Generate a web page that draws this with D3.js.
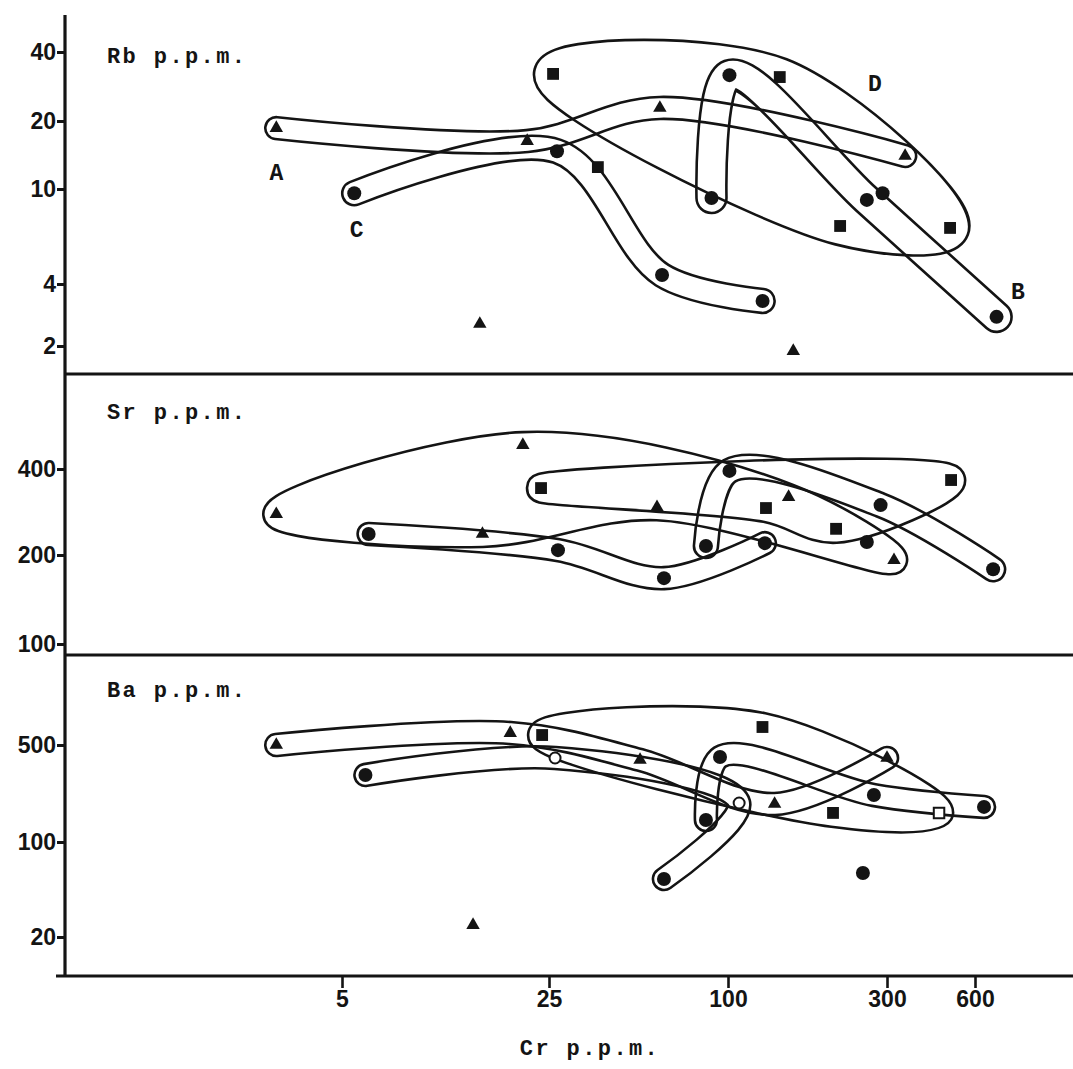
<!DOCTYPE html>
<html>
<head>
<meta charset="utf-8">
<script src="https://cdn.jsdelivr.net/npm/d3@7"></script>
<style>
  body { margin: 0; background: #fff; }
  svg { display: block; }
</style>
</head>
<body>
<svg id="chart" width="1073" height="1069"></svg>
<script>
// ---- data (Cr p.p.m. on x, element p.p.m. on y) ----
const crTicks = [5, 25, 100, 300, 600];

// Rb
const rbTicks = [2, 4, 10, 20, 40];
const rbTri  = [[3.0,18.6],[21.1,16.3],[59,22.8],[346,14.0],[14.6,2.56],[157,1.89]];
const rbCirc = [[5.5,9.6],[26.6,14.7],[60,4.36],[127,3.31],[88,9.17],[101,31.7],[261,9.0],[291,9.6],[711,2.77]];
const rbSq   = [[25.8,32.1],[143,31.1],[36.5,12.5],[217,7.0],[493,6.87]];
const rbLoops = [
  ["t0","t1","t2","t3"],          // A
  ["c0","c1","c2","c3"],          // C
  ["c4","c5","c6","c8"],          // B
  ["s0","s1","s4","s3","s0"]      // D
];
const rbLetters = [["A",3.0,11.9],["C",5.6,6.8],["D",276,29.3],["B",842,3.7]];

// Sr
const srTicks = [100, 200, 400];
const srTri  = [[3.0,278],[20.4,485],[14.9,237],[57.7,294],[152,319],[317,192]];
const srCirc = [[6.15,237],[26.8,208],[60.9,167],[84.3,215],[101,394],[129,220],[287,299],[261,222],[692,179]];
const srSq   = [[23.5,343],[130,292],[211,247],[497,366]];
const srLoops = [
  ["t0","t1","t4","t5","t3","t2","t0"],
  ["s0","s3","s2","s1","s0"],
  ["c3","c4","c6","c8"],
  ["c0","c1","c2","c5"]
];

// Ba
const baTicks = [20, 100, 500];
const baTri  = [[3.0,500],[18.5,610],[50.6,390],[138,188],[300,403],[13.85,24.5]];
const baCirc = [[6.0,304],[94,410],[274,218],[644,179],[84.3,144],[60.9,53.4],[254,59.1]];
const baOpen = [[26.2,403],[108,191]];
const baSq   = [[23.7,590],[126.9,674],[206.6,162]];
const baOpenSq = [[452,162]];
const baLoops = [
  ["t0","t1","t2","t3","t4"],
  ["s0","s1","q0","s2","s0"],
  ["c0","o0","o1","c5"],
  ["c4","c1","c2","c3"]
];

// ---- layout ----
const W = 1073, H = 1069;
const ink = "#141414";
const axisX = 65, plotTop = 15, sep1 = 374, sep2 = 655, plotBottom = 976;
const monoFont = "'Liberation Mono', 'DejaVu Sans Mono', monospace";
const sansFont = "'Liberation Sans', Arial, sans-serif";

const svg = d3.select("#chart");
const defs = svg.append("defs");

// hand-drawn log axis: calibrated at the printed ticks
const x = d3.scaleLog().domain(crTicks).range([342, 549, 728, 887, 975]);

const panels = [
  {label: "Rb p.p.m.", labelY: 63, ticks: rbTicks, knots: [346, 284, 189, 121, 52],
   tri: rbTri, circ: rbCirc, sq: rbSq, open: [], openSq: [], loops: rbLoops, radius: [11, 12, 15, 19], letters: rbLetters},
  {label: "Sr p.p.m.", labelY: 419, ticks: srTicks, knots: [644, 555, 469],
   tri: srTri, circ: srCirc, sq: srSq, open: [], openSq: [], loops: srLoops, radius: [13, 14, 12, 11], letters: []},
  {label: "Ba p.p.m.", labelY: 697, ticks: baTicks, knots: [937, 842, 745],
   tri: baTri, circ: baCirc, sq: baSq, open: baOpen, openSq: baOpenSq, loops: baLoops, radius: [11, 14, 11, 11], letters: []}
];

const loopLine = closed => d3.line()
  .curve(closed ? d3.curveCatmullRomClosed.alpha(0.5) : d3.curveCatmullRom.alpha(0.5));

const lw = 2.6;
let maskCount = 0;

panels.forEach(p => {
  const y = d3.scaleLog().domain(p.ticks).range(p.knots);
  const lookup = {t: p.tri, c: p.circ, s: p.sq, o: p.open, q: p.openSq};
  const pos = ref => {
    const d = lookup[ref[0]][+ref.slice(1)];
    return [x(d[0]), y(d[1])];
  };

  const g = svg.append("g");

  // loops: outline of a thick stroke along the members
  p.loops.forEach((refs, i) => {
    const closed = refs.length > 2 && refs[0] === refs[refs.length - 1];
    const pts = (closed ? refs.slice(0, -1) : refs).map(pos);
    const d = loopLine(closed)(pts);
    const r = p.radius[i];
    const id = "loop" + (maskCount++);
    const m = defs.append("mask").attr("id", id)
      .attr("maskUnits", "userSpaceOnUse")
      .attr("x", 0).attr("y", 0).attr("width", W).attr("height", H);
    m.append("path").attr("d", d)
      .attr("fill", closed ? "#fff" : "none")
      .attr("stroke", "#fff").attr("stroke-width", 2 * r + lw)
      .attr("stroke-linejoin", "round").attr("stroke-linecap", "round");
    m.append("path").attr("d", d)
      .attr("fill", closed ? "#000" : "none")
      .attr("stroke", "#000").attr("stroke-width", 2 * r - lw)
      .attr("stroke-linejoin", "round").attr("stroke-linecap", "round");
    g.append("rect").attr("width", W).attr("height", H)
      .attr("fill", ink).attr("mask", `url(#${id})`);
  });

  // markers
  g.selectAll(".tri").data(p.tri).join("path")
    .attr("d", d3.symbol(d3.symbolTriangle, 78))
    .attr("transform", d => `translate(${x(d[0])},${y(d[1])})`)
    .attr("fill", ink);
  g.selectAll(".circ").data(p.circ).join("circle")
    .attr("cx", d => x(d[0])).attr("cy", d => y(d[1]))
    .attr("r", 7).attr("fill", ink);
  g.selectAll(".sq").data(p.sq).join("path")
    .attr("d", d3.symbol(d3.symbolSquare, 140))
    .attr("transform", d => `translate(${x(d[0])},${y(d[1])})`)
    .attr("fill", ink);
  g.selectAll(".open").data(p.open).join("circle")
    .attr("cx", d => x(d[0])).attr("cy", d => y(d[1]))
    .attr("r", 5.5).attr("fill", "#fff").attr("stroke", ink).attr("stroke-width", 2);
  g.selectAll(".opensq").data(p.openSq).join("path")
    .attr("d", d3.symbol(d3.symbolSquare, 110))
    .attr("transform", d => `translate(${x(d[0])},${y(d[1])})`)
    .attr("fill", "#fff").attr("stroke", ink).attr("stroke-width", 2);

  // group letters
  g.selectAll(".letter").data(p.letters).join("text")
    .attr("x", d => x(d[1])).attr("y", d => y(d[2]))
    .attr("dy", "0.35em")
    .attr("text-anchor", "middle")
    .attr("font-family", monoFont).attr("font-weight", "bold").attr("font-size", 23)
    .attr("fill", ink)
    .text(d => d[0]);

  // panel title
  svg.append("text")
    .attr("x", 107).attr("y", p.labelY)
    .attr("font-family", monoFont).attr("font-weight", "bold").attr("font-size", 22)
    .attr("letter-spacing", 2.4)
    .attr("fill", ink)
    .text(p.label);

  // y axis ticks
  svg.append("g")
    .attr("transform", `translate(${axisX},0)`)
    .call(d3.axisLeft(y).tickValues(p.ticks).tickSize(8).tickPadding(1).tickFormat(d3.format("d")))
    .call(a => a.select(".domain").remove())
    .call(a => a.selectAll(".tick line").attr("stroke", ink).attr("stroke-width", 3))
    .call(a => a.selectAll(".tick text")
      .attr("fill", ink).attr("font-family", sansFont)
      .attr("font-size", 23).attr("font-weight", "bold"));
});

// frame: shared y axis line and panel separators
const frame = svg.append("g").attr("stroke", ink).attr("stroke-width", 3.2);
frame.append("line").attr("x1", axisX).attr("x2", axisX).attr("y1", plotTop).attr("y2", plotBottom + 1);
[sep1, sep2].forEach(s => frame.append("line")
  .attr("x1", axisX).attr("x2", W).attr("y1", s).attr("y2", s));

// x axis
svg.append("g")
  .attr("transform", `translate(0,${plotBottom})`)
  .call(d3.axisBottom(x).tickValues(crTicks).tickSize(12).tickPadding(3).tickFormat(d3.format("d")))
  .call(a => a.select(".domain").remove())
  .call(a => a.selectAll(".tick line").attr("stroke", ink).attr("stroke-width", 2.6))
  .call(a => a.selectAll(".tick text")
    .attr("fill", ink).attr("font-family", sansFont)
    .attr("font-size", 23).attr("font-weight", "bold"));
frame.append("line").attr("x1", 56).attr("x2", W).attr("y1", plotBottom).attr("y2", plotBottom);

svg.append("text")
  .attr("x", 590).attr("y", 1055)
  .attr("text-anchor", "middle")
  .attr("font-family", monoFont).attr("font-weight", "bold").attr("font-size", 22)
  .attr("letter-spacing", 2.4)
  .attr("fill", ink)
  .text("Cr  p.p.m.");
</script>
</body>
</html>
